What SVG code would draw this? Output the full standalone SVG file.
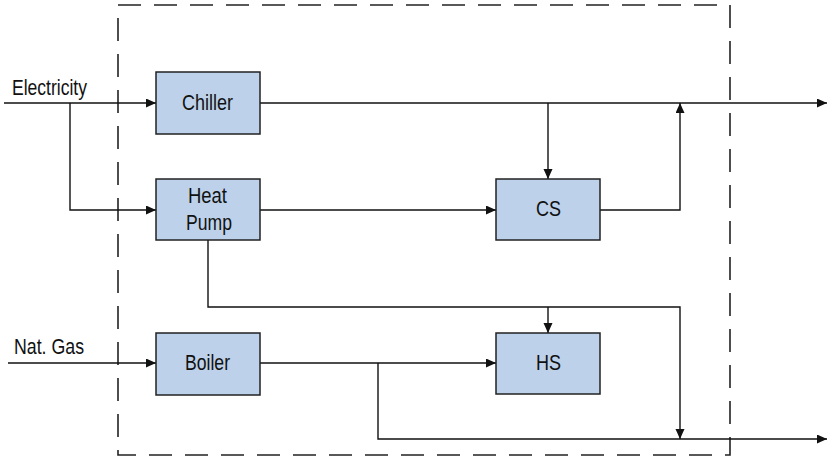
<svg xmlns="http://www.w3.org/2000/svg" width="831" height="458" viewBox="0 0 831 458">
  <style>
    .box { fill: #BDD1EA; stroke: #222; stroke-width: 1.5; }
    .wire { fill: none; stroke: #111; stroke-width: 1.4; }
    .border { fill: none; stroke: #222; stroke-width: 1.6; stroke-dasharray: 23 13; }
    .lbl { font-family: "Liberation Sans", Arial, sans-serif; font-size: 22px; fill: #111; }
  </style>
  <defs>
    <marker id="arrow" markerUnits="userSpaceOnUse" markerWidth="11" markerHeight="10" refX="10" refY="4.5" orient="auto">
      <path d="M0,0 L10,4.5 L0,9 Z" fill="#111"/>
    </marker>
  </defs>

  <rect x="0" y="0" width="831" height="458" fill="#fff"/>

  <!-- system boundary -->
  <rect class="border" x="118" y="5" width="612" height="450"/>

  <!-- flows -->
  <g id="connectors">
    <path class="wire" d="M4,103 H156" marker-end="url(#arrow)"/>
    <path class="wire" d="M70,103 V210 H156" marker-end="url(#arrow)"/>
    <path class="wire" d="M260,103 H827" marker-end="url(#arrow)"/>
    <path class="wire" d="M548,103 V179" marker-end="url(#arrow)"/>
    <path class="wire" d="M260,210 H496" marker-end="url(#arrow)"/>
    <path class="wire" d="M600,210 H680 V103" marker-end="url(#arrow)"/>
    <path class="wire" d="M208,240 V307 H680 V439" marker-end="url(#arrow)"/>
    <path class="wire" d="M548,307 V333" marker-end="url(#arrow)"/>
    <path class="wire" d="M8,363 H156" marker-end="url(#arrow)"/>
    <path class="wire" d="M260,363 H496" marker-end="url(#arrow)"/>
    <path class="wire" d="M378,363 V439 H827" marker-end="url(#arrow)"/>
  </g>

  <!-- input labels -->
  <g id="electricity">
    <text class="lbl" x="12" y="95" textLength="75" lengthAdjust="spacingAndGlyphs">Electricity</text>
  </g>
  <g id="natgas">
    <text class="lbl" x="14" y="354" textLength="70" lengthAdjust="spacingAndGlyphs">Nat. Gas</text>
  </g>

  <!-- units -->
  <g id="chiller">
    <rect class="box" x="156" y="72" width="104" height="62"/>
    <text class="lbl" x="182" y="110" textLength="51" lengthAdjust="spacingAndGlyphs">Chiller</text>
  </g>
  <g id="heatpump">
    <rect class="box" x="156" y="179" width="104" height="61"/>
    <text class="lbl" x="188" y="203" textLength="39" lengthAdjust="spacingAndGlyphs">Heat</text>
    <text class="lbl" x="186" y="229.5" textLength="46" lengthAdjust="spacingAndGlyphs">Pump</text>
  </g>
  <g id="cs">
    <rect class="box" x="496" y="179" width="104" height="61"/>
    <text class="lbl" x="536" y="216" textLength="25" lengthAdjust="spacingAndGlyphs">CS</text>
  </g>
  <g id="boiler">
    <rect class="box" x="156" y="333" width="104" height="62"/>
    <text class="lbl" x="185" y="370" textLength="45" lengthAdjust="spacingAndGlyphs">Boiler</text>
  </g>
  <g id="hs">
    <rect class="box" x="496" y="333" width="104" height="61"/>
    <text class="lbl" x="536" y="370" textLength="25" lengthAdjust="spacingAndGlyphs">HS</text>
  </g>
</svg>
